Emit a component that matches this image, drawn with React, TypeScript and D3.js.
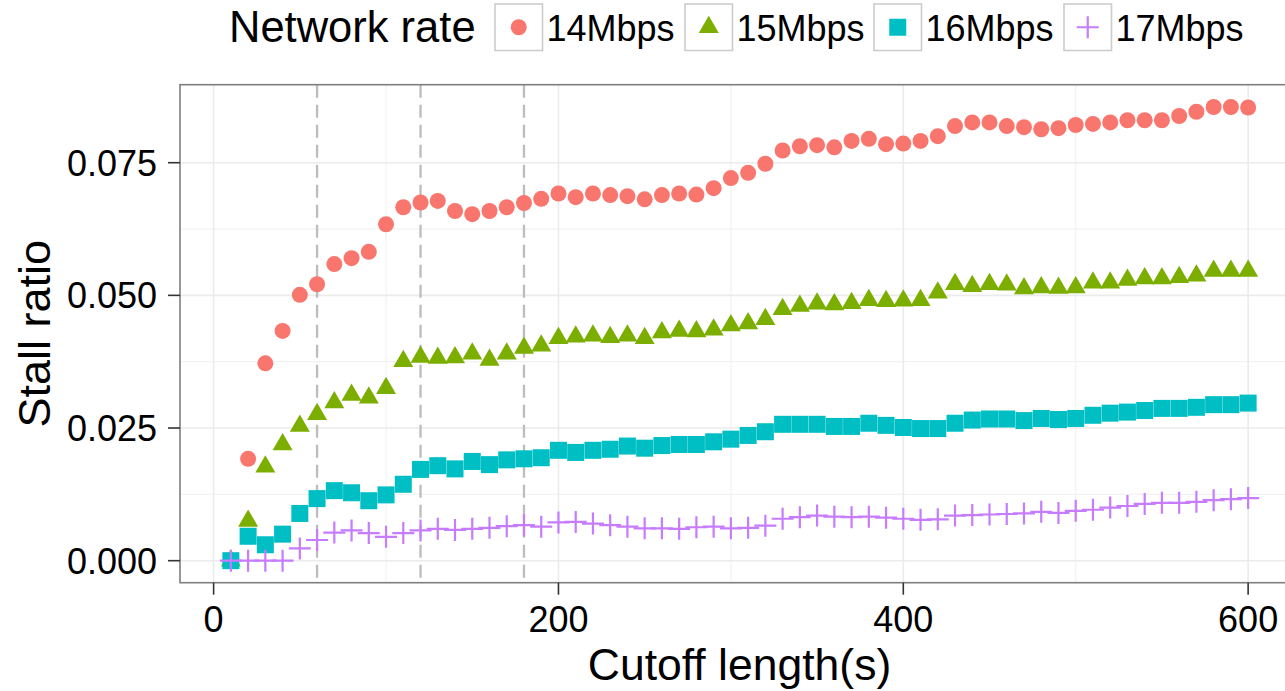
import React from "react";
import * as d3 from "d3";

const cutoff = [10, 20, 30, 40, 50, 60, 70, 80, 90, 100, 110, 120, 130, 140, 150, 160, 170, 180, 190, 200, 210, 220, 230, 240, 250, 260, 270, 280, 290, 300, 310, 320, 330, 340, 350, 360, 370, 380, 390, 400, 410, 420, 430, 440, 450, 460, 470, 480, 490, 500, 510, 520, 530, 540, 550, 560, 570, 580, 590, 600];

const rate14 = [0, 0.0192, 0.0372, 0.0433, 0.0501, 0.0521, 0.0559, 0.057, 0.0582, 0.0634, 0.0666, 0.0675, 0.0678, 0.0659, 0.0653, 0.0659, 0.0666, 0.0674, 0.0682, 0.0692, 0.0685, 0.0692, 0.0689, 0.0687, 0.0681, 0.0689, 0.0692, 0.069, 0.0702, 0.0721, 0.0731, 0.0748, 0.0773, 0.0781, 0.0783, 0.0779, 0.0791, 0.0795, 0.0785, 0.0786, 0.0791, 0.08, 0.0819, 0.0826, 0.0826, 0.0819, 0.0817, 0.0813, 0.0815, 0.0821, 0.0823, 0.0826, 0.083, 0.083, 0.083, 0.0838, 0.0846, 0.0855, 0.0855, 0.0854];
const rate15 = [0, 0.0075, 0.0177, 0.0219, 0.0254, 0.0276, 0.0298, 0.0312, 0.0307, 0.0325, 0.0376, 0.0384, 0.0382, 0.0383, 0.039, 0.0378, 0.039, 0.0401, 0.0405, 0.0419, 0.0422, 0.0424, 0.0421, 0.0424, 0.0419, 0.043, 0.0433, 0.0432, 0.0435, 0.0443, 0.0447, 0.0455, 0.0474, 0.048, 0.0484, 0.0483, 0.0485, 0.0491, 0.0489, 0.049, 0.0491, 0.0505, 0.0521, 0.0517, 0.0521, 0.052, 0.0513, 0.0515, 0.0514, 0.0515, 0.0524, 0.0524, 0.0529, 0.0532, 0.0532, 0.0534, 0.0537, 0.0546, 0.0546, 0.0546];
const rate16 = [0, 0.0046, 0.003, 0.005, 0.0089, 0.0117, 0.0132, 0.0128, 0.0113, 0.0124, 0.0144, 0.0172, 0.0179, 0.0173, 0.0187, 0.0181, 0.019, 0.0192, 0.0194, 0.0208, 0.0204, 0.0208, 0.021, 0.0216, 0.0212, 0.0217, 0.0219, 0.0219, 0.0224, 0.0229, 0.0236, 0.0243, 0.0257, 0.0257, 0.0257, 0.0253, 0.0253, 0.0259, 0.0255, 0.0251, 0.0249, 0.0249, 0.0259, 0.0265, 0.0267, 0.0267, 0.0264, 0.0268, 0.0266, 0.0268, 0.0274, 0.0278, 0.028, 0.0283, 0.0287, 0.0287, 0.0289, 0.0294, 0.0294, 0.0297];
const rate17 = [0, 0, 0, 0, 0.0023, 0.0039, 0.0053, 0.0057, 0.0052, 0.0045, 0.0052, 0.0057, 0.006, 0.0058, 0.006, 0.0062, 0.0065, 0.0067, 0.0064, 0.0072, 0.0073, 0.007, 0.0067, 0.0064, 0.0061, 0.0061, 0.006, 0.0063, 0.0064, 0.0061, 0.0062, 0.0066, 0.0079, 0.0082, 0.0085, 0.0083, 0.0082, 0.0083, 0.0081, 0.0079, 0.0077, 0.0078, 0.0085, 0.0086, 0.0087, 0.0088, 0.0089, 0.0092, 0.009, 0.0094, 0.0096, 0.01, 0.0103, 0.0107, 0.0109, 0.0109, 0.0111, 0.0114, 0.0116, 0.0118];

const seriesNames = ["14Mbps", "15Mbps", "16Mbps", "17Mbps"];
const seriesValues = [rate14, rate15, rate16, rate17];
const seriesColors = ["#F8766D", "#7CAE00", "#00BFC4", "#C77CFF"];
const seriesShapes = ["circle", "triangle", "square", "plus"];

const xTicks = [0, 200, 400, 600];
const xMinor = [100, 300, 500];
const yTicks = [0, 0.025, 0.05, 0.075];
const yMinor = [0.0125, 0.0375, 0.0625];
const markerLines = [60, 120, 180];

const FONT = "'Liberation Sans', Arial, Helvetica, sans-serif";

const P = { left: 180, right: 1299, top: 84.7, bottom: 582.7 };

function Marker({ shape, x, y, color }: { shape: string; x: number; y: number; color: string }) {
  if (shape === "circle") return <circle cx={x} cy={y} r={8} fill={color} />;
  if (shape === "square") return <rect x={x - 8.5} y={y - 8.5} width={17} height={17} fill={color} />;
  if (shape === "triangle") {
    const r = 11.5;
    const hw = 10;
    const d = `M${x},${y - r}L${x + hw},${y + r / 2}L${x - hw},${y + r / 2}Z`;
    return <path d={d} fill={color} />;
  }
  const s = 11;
  return (
    <path d={`M${x - s},${y}H${x + s}M${x},${y - s}V${y + s}`} stroke={color} strokeWidth={2.2} fill="none" />
  );
}

export default function App() {
  const x = d3.scaleLinear().domain([-19.5, 629.5]).range([P.left, P.right]);
  const y = d3.scaleLinear().domain([-0.00415, 0.0897]).range([P.bottom, P.top]);
  const fmt = d3.format(".3f");

  const legendBoxes = [495, 685, 874, 1064];

  return (
    <svg
      width={1285}
      height={691}
      style={{ position: "absolute", left: 0, top: 0, background: "#fff" }}
      fontFamily={FONT}
    >
      <rect x={0} y={0} width={1285} height={691} fill="#fff" />
      {/* grid */}
      {yMinor.map((v) => (
        <line key={"ym" + v} x1={P.left} x2={P.right} y1={y(v)} y2={y(v)} stroke="#f2f2f2" strokeWidth={1.2} />
      ))}
      {xMinor.map((v) => (
        <line key={"xm" + v} x1={x(v)} x2={x(v)} y1={P.top} y2={P.bottom} stroke="#f2f2f2" strokeWidth={1.2} />
      ))}
      {yTicks.map((v) => (
        <line key={"yg" + v} x1={P.left} x2={P.right} y1={y(v)} y2={y(v)} stroke="#ebebeb" strokeWidth={1.6} />
      ))}
      {xTicks.map((v) => (
        <line key={"xg" + v} x1={x(v)} x2={x(v)} y1={P.top} y2={P.bottom} stroke="#ebebeb" strokeWidth={1.6} />
      ))}
      {/* dashed reference lines */}
      {markerLines.map((v) => (
        <line
          key={"ml" + v}
          x1={x(v)}
          x2={x(v)}
          y1={P.top}
          y2={P.bottom}
          stroke="#bdbdbd"
          strokeWidth={2.3}
          strokeDasharray="13,7"
        />
      ))}
      {/* points */}
      {seriesValues.map((vals, si) => (
        <g key={"s" + si}>
          {vals.map((v, i) => (
            <Marker key={i} shape={seriesShapes[si]} x={x(cutoff[i])} y={y(v)} color={seriesColors[si]} />
          ))}
        </g>
      ))}
      {/* panel border */}
      <rect
        x={P.left}
        y={P.top}
        width={P.right - P.left}
        height={P.bottom - P.top}
        fill="none"
        stroke="#7f7f7f"
        strokeWidth={1.6}
      />
      {/* y axis */}
      {yTicks.map((v) => (
        <g key={"yt" + v}>
          <line x1={P.left - 12} x2={P.left} y1={y(v)} y2={y(v)} stroke="#333" strokeWidth={1.6} />
          <text x={157} y={y(v) + 12.9} textAnchor="end" fontSize={36} fill="#000">
            {fmt(v)}
          </text>
        </g>
      ))}
      {/* x axis */}
      {xTicks.map((v) => (
        <g key={"xt" + v}>
          <line x1={x(v)} x2={x(v)} y1={P.bottom} y2={P.bottom + 12} stroke="#333" strokeWidth={1.6} />
          <text x={x(v)} y={631.5} textAnchor="middle" fontSize={36} fill="#000">
            {v}
          </text>
        </g>
      ))}
      <text x={(P.left + P.right) / 2} y={680} textAnchor="middle" fontSize={44.5} fill="#000">
        Cutoff length(s)
      </text>
      <text
        transform={`translate(50,${(P.top + P.bottom) / 2}) rotate(-90)`}
        textAnchor="middle"
        fontSize={45}
        fill="#000"
      >
        Stall ratio
      </text>
      {/* legend */}
      <text x={229} y={41.7} fontSize={43.5} fill="#000">
        Network rate
      </text>
      {seriesNames.map((name, si) => {
        const bx = legendBoxes[si];
        return (
          <g key={"lg" + si}>
            <rect x={bx} y={4} width={47.5} height={46.5} fill="#fff" stroke="#cccccc" strokeWidth={1.6} />
            <Marker shape={seriesShapes[si]} x={bx + 23.75} y={27.25} color={seriesColors[si]} />
            <text x={bx + 51.5} y={40.7} fontSize={36} fill="#000">
              {name}
            </text>
          </g>
        );
      })}
    </svg>
  );
}
